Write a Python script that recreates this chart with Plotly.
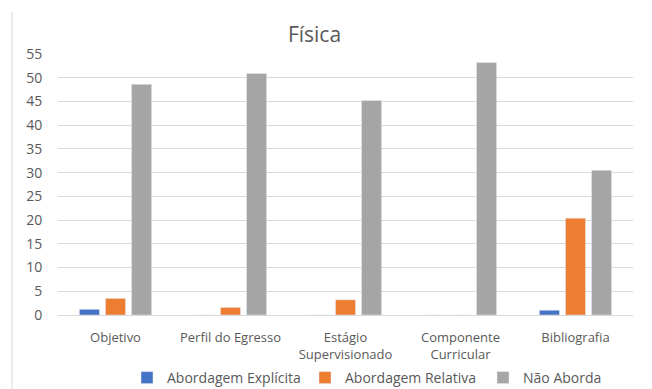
import plotly.graph_objects as go

categories = ["Objetivo", "Perfil do Egresso", "Estágio<br>Supervisionado", "Componente<br>Curricular", "Bibliografia"]
explicita = [1.2, 0, 0, 0, 1.0]
relativa = [3.5, 1.6, 3.2, 0, 20.4]
nao_aborda = [48.6, 50.9, 45.2, 53.2, 30.5]
y_ticks = list(range(0, 56, 5))

fig = go.Figure()
fig.add_bar(x=categories, y=explicita, name="Abordagem Explícita", marker_color="#4472C4")
fig.add_bar(x=categories, y=relativa, name="Abordagem Relativa", marker_color="#ED7D31")
fig.add_bar(x=categories, y=nao_aborda, name="Não Aborda", marker_color="#A5A5A5")

font_color = "#595959"
fig.update_layout(
    width=652, height=389,
    margin=dict(l=58, r=19, t=54, b=74, autoexpand=False),
    paper_bgcolor="white", plot_bgcolor="white",
    font=dict(family="Open Sans", size=13, color=font_color),
    title=dict(text="Física", x=314.5 / 652, xanchor="center", y=1 - 35 / 389, yanchor="middle",
               font=dict(size=21, color=font_color)),
    barmode="group", bargap=0.32, bargroupgap=0.23,
    legend=dict(orientation="h", xref="container", yref="container",
                x=127 / 652, xanchor="left", y=(389 - 378) / 389, yanchor="middle",
                font=dict(size=14, color=font_color), itemwidth=30,
                entrywidth=133, tracegroupgap=0),
    showlegend=True,
)
fig.update_yaxes(range=[0, 55], tickvals=y_ticks, showgrid=True, gridcolor="#d9d9d9",
                 zeroline=False, showline=False, tickfont=dict(size=14, color=font_color),
                 ticks="outside", ticklen=12, tickcolor="rgba(0,0,0,0)")
fig.update_xaxes(showline=True, linecolor="#d9d9d9", ticks="outside", ticklen=10,
                 tickcolor="rgba(0,0,0,0)", tickfont=dict(size=13, color=font_color))
fig.add_shape(type="line", xref="paper", yref="paper", x0=-46 / 575, x1=-46 / 575,
              y0=-74 / 261, y1=(315 - 12) / 261, line=dict(color="#d9d9d9", width=1))
fig.write_html("out.html")
